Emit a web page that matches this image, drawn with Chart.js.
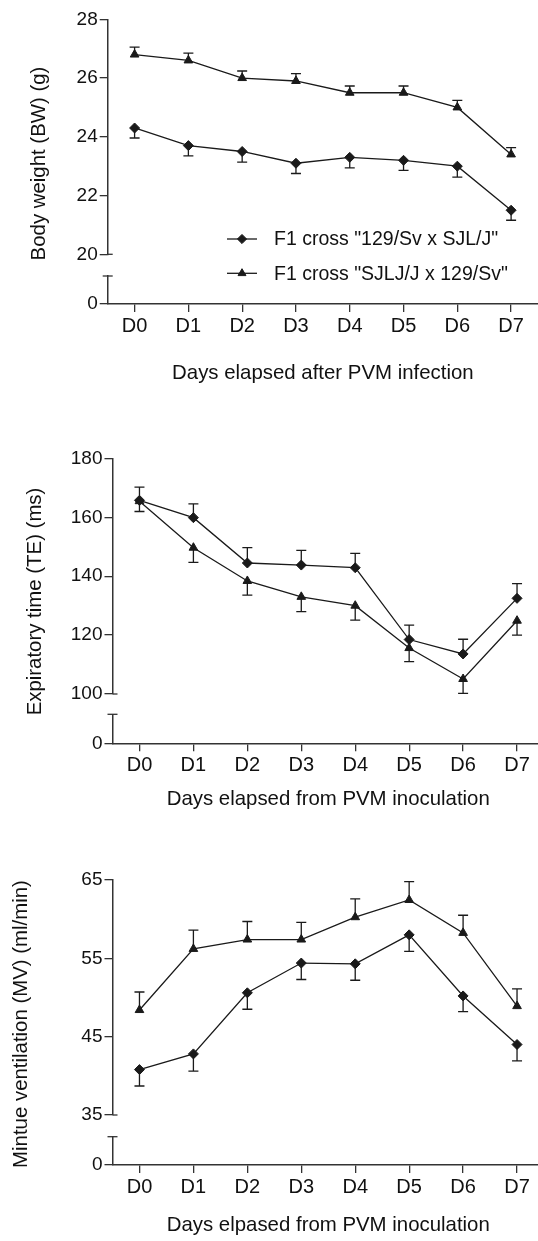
<!DOCTYPE html>
<html>
<head>
<meta charset="utf-8">
<script src="https://cdn.jsdelivr.net/npm/chart.js@4/dist/chart.umd.min.js"></script>
<style>
html,body{margin:0;padding:0;background:#fff;overflow:hidden;width:538px;height:1241px;position:relative}
.p{position:absolute;left:0}
</style>
</head>
<body>
<div class="p" style="top:0;width:538px;height:400px"><canvas id="c1"></canvas></div>
<div class="p" style="top:400px;width:544px;height:420px"><canvas id="c2"></canvas></div>
<div class="p" style="top:820px;width:544px;height:421px"><canvas id="c3"></canvas></div>
<script>
// ---------- data ----------
const days = ['D0', 'D1', 'D2', 'D3', 'D4', 'D5', 'D6', 'D7'];
const seriesNames = ['F1 cross "129/Sv x SJL/J"', 'F1 cross "SJLJ/J x 129/Sv"'];

// Body weight (g)
const bwCross1 = [24.3, 23.7, 23.5, 23.1, 23.3, 23.2, 23.0, 21.5];
const bwCross1Err = [0.34, 0.35, 0.36, 0.35, 0.36, 0.34, 0.37, 0.34];
const bwCross2 = [26.8, 26.6, 26.0, 25.9, 25.5, 25.5, 25.0, 23.4];
const bwCross2Err = [0.25, 0.25, 0.24, 0.25, 0.23, 0.23, 0.24, 0.23];
const bwTicks = [20, 22, 24, 26, 28];

// Expiratory time (ms)
const teCross1 = [165.8, 159.9, 144.5, 143.8, 142.9, 118.5, 113.6, 132.5];
const teCross1Err = [4.5, 4.7, 5.2, 5.0, 4.9, 4.9, 5.0, 5.0];
const teCross2 = [165.5, 149.7, 138.4, 133.0, 130.0, 115.6, 105.1, 124.9];
const teCross2Err = [3.5, 5.0, 4.8, 5.0, 4.9, 4.6, 4.9, 4.9];
const teTicks = [100, 120, 140, 160, 180];

// Minute ventilation (ml/min)
const mvCross1 = [40.8, 42.8, 50.6, 54.4, 54.3, 58.0, 50.2, 44.0];
const mvCross1Err = [2.1, 2.2, 2.1, 2.1, 2.1, 2.1, 2.0, 2.1];
const mvCross2 = [48.4, 56.2, 57.4, 57.4, 60.25, 62.45, 58.25, 48.9];
const mvCross2Err = [2.3, 2.4, 2.3, 2.2, 2.35, 2.35, 2.25, 2.2];
const mvTicks = [35, 45, 55, 65];

const breakTicks = [0];

// ---------- styling ----------
const FONT = "'Liberation Sans', Arial, Helvetica, sans-serif";
const INK = '#1a1a1a';
const AXIS = '#333333';
const TXT = '#111111';
Chart.defaults.font.family = FONT;

function drawMarker(ctx, style, x, y, r) {
  ctx.save();
  ctx.fillStyle = INK; ctx.strokeStyle = INK; ctx.lineWidth = 1;
  ctx.beginPath();
  if (style === 'rectRot') {
    ctx.moveTo(x, y - r); ctx.lineTo(x + r, y); ctx.lineTo(x, y + r); ctx.lineTo(x - r, y);
  } else {
    const e = r * Math.sqrt(3) / 2;
    ctx.moveTo(x, y - r); ctx.lineTo(x + e, y + r / 2); ctx.lineTo(x - e, y + r / 2);
  }
  ctx.closePath(); ctx.fill(); ctx.stroke();
  ctx.restore();
}

const errorBars = {
  id: 'errorBars',
  beforeDatasetsDraw(chart) {
    const ctx = chart.ctx;
    ctx.save();
    ctx.strokeStyle = INK; ctx.lineWidth = 1.3;
    chart.data.datasets.forEach((ds, di) => {
      const meta = chart.getDatasetMeta(di);
      const ys = chart.scales[meta.yAxisID];
      meta.data.forEach((pt, i) => {
        const v = ds.data[i] + ds.errSign * ds.errors[i];
        const ye = ys.getPixelForValue(v);
        ctx.beginPath();
        ctx.moveTo(pt.x, pt.y); ctx.lineTo(pt.x, ye);
        ctx.moveTo(pt.x - 5, ye); ctx.lineTo(pt.x + 5, ye);
        ctx.stroke();
      });
    });
    ctx.restore();
  }
};

const decor = {
  id: 'decor',
  afterDraw(chart, args, o) {
    const ctx = chart.ctx;
    const y = chart.scales.y, y0 = chart.scales.y0, ca = chart.chartArea;
    ctx.save();
    ctx.strokeStyle = AXIS; ctx.lineWidth = 1.3;
    const L = ca.left;
    const yb = y.getPixelForValue(y.min);
    ctx.beginPath(); ctx.moveTo(L, yb); ctx.lineTo(L + 5, yb); ctx.stroke();
    const yt = y0.top;
    ctx.beginPath(); ctx.moveTo(L - 5, yt); ctx.lineTo(L + 5, yt); ctx.stroke();
    // axis titles
    ctx.fillStyle = TXT;
    ctx.font = '20.4px ' + FONT;
    ctx.textAlign = 'center'; ctx.textBaseline = 'middle';
    ctx.fillText(o.xTitle, (ca.left + ca.right) / 2, o.xTitleY);
    ctx.save();
    ctx.translate(o.yTitleX, o.yTitleY);
    ctx.rotate(-Math.PI / 2);
    ctx.fillText(o.yTitle, 0, 0);
    ctx.restore();
    // legend
    if (o.legend) {
      ctx.font = '19.5px ' + FONT;
      ctx.textAlign = 'left';
      chart.data.datasets.forEach((ds, i) => {
        const ly = o.legend.y[i];
        ctx.strokeStyle = INK; ctx.lineWidth = 1.3;
        ctx.beginPath(); ctx.moveTo(o.legend.x, ly); ctx.lineTo(o.legend.x + 30, ly); ctx.stroke();
        drawMarker(ctx, ds.pointStyle, o.legend.x + 15, ly, 4.6);
        ctx.fillStyle = TXT;
        ctx.fillText(ds.label, o.legend.x + 47, ly + 1);
      });
    }
    ctx.restore();
  }
};

function makePanel(id, cfg) {
  const L = cfg.left;
  const tickGrid = { display: true, drawOnChartArea: false, drawTicks: true, tickLength: 8, color: AXIS, lineWidth: 1.3 };
  const border = { display: true, color: AXIS, width: 1.5 };
  const yTickFont = { family: FONT, size: 19 };
  return new Chart(document.getElementById(id), {
    type: 'line',
    data: {
      labels: days,
      datasets: cfg.series.map(s => ({
        label: s.name, data: s.values, errors: s.errors, errSign: s.sign,
        yAxisID: 'y', borderColor: INK, borderWidth: 1.3, backgroundColor: INK,
        pointStyle: s.style, pointRadius: 5, pointBorderWidth: 1,
        pointBackgroundColor: INK, pointBorderColor: INK, tension: 0, fill: false
      }))
    },
    options: {
      responsive: true, maintainAspectRatio: false, animation: false, devicePixelRatio: 1,
      layout: { autoPadding: false, padding: { left: 0, right: 0, top: cfg.padTop, bottom: cfg.padBottom } },
      plugins: {
        legend: { display: false }, tooltip: { enabled: false },
        decor: { xTitle: cfg.xTitle, xTitleY: cfg.xTitleY, yTitle: cfg.yTitle, yTitleX: cfg.yTitleX, yTitleY: cfg.yTitleY, legend: cfg.legend }
      },
      scales: {
        x: {
          type: 'category', offset: true,
          afterFit: s => { s.height = 40; s.paddingLeft = 0; s.paddingRight = 0; },
          grid: Object.assign({}, tickGrid, { offset: false }),
          border: border,
          ticks: { font: { family: FONT, size: 20 }, color: TXT, padding: 2, maxRotation: 0, autoSkip: false }
        },
        y0: {
          type: 'linear', position: 'left', stack: 'left', stackWeight: cfg.w[2], min: 0, max: 1,
          afterBuildTicks: s => { s.ticks = breakTicks.map(v => ({ value: v })); },
          afterFit: s => { s.width = L; },
          grid: tickGrid, border: border,
          ticks: { font: yTickFont, color: TXT, padding: 2 }
        },
        yGap: {
          type: 'linear', position: 'left', stack: 'left', stackWeight: cfg.w[1], min: 0, max: 1,
          afterFit: s => { s.width = L; },
          grid: { display: false }, border: { display: false }, ticks: { display: false }
        },
        y: {
          type: 'linear', position: 'left', stack: 'left', stackWeight: cfg.w[0],
          min: cfg.ticks[0], max: cfg.ticks[cfg.ticks.length - 1],
          afterBuildTicks: s => { s.ticks = cfg.ticks.map(v => ({ value: v })); },
          afterFit: s => { s.width = L; },
          grid: tickGrid, border: border,
          ticks: { font: yTickFont, color: TXT, padding: 2 }
        }
      }
    },
    plugins: [errorBars, decor]
  });
}

makePanel('c1', {
  left: 107.7, padTop: 19.3, padBottom: 56, w: [235, 21.7, 28], ticks: bwTicks,
  series: [
    { name: seriesNames[0], values: bwCross1, errors: bwCross1Err, sign: -1, style: 'rectRot' },
    { name: seriesNames[1], values: bwCross2, errors: bwCross2Err, sign: 1, style: 'triangle' }
  ],
  xTitle: 'Days elapsed after PVM infection', xTitleY: 373.5,
  yTitle: 'Body weight (BW) (g)', yTitleX: 39, yTitleY: 163.5,
  legend: { x: 227, y: [239, 273.3] }
});

makePanel('c2', {
  left: 112.5, padTop: 58.5, padBottom: 36.7, w: [235.5, 20.3, 29], ticks: teTicks,
  series: [
    { name: seriesNames[0], values: teCross1, errors: teCross1Err, sign: 1, style: 'rectRot' },
    { name: seriesNames[1], values: teCross2, errors: teCross2Err, sign: -1, style: 'triangle' }
  ],
  xTitle: 'Days elapsed from PVM inoculation', xTitleY: 399,
  yTitle: 'Expiratory time (TE) (ms)', yTitleX: 35.5, yTitleY: 201.5
});

makePanel('c3', {
  left: 112.5, padTop: 60, padBottom: 36, w: [235, 21.7, 28.3], ticks: mvTicks,
  series: [
    { name: seriesNames[0], values: mvCross1, errors: mvCross1Err, sign: -1, style: 'rectRot' },
    { name: seriesNames[1], values: mvCross2, errors: mvCross2Err, sign: 1, style: 'triangle' }
  ],
  xTitle: 'Days elpased from PVM inoculation', xTitleY: 405,
  yTitle: 'Mintue ventilation (MV) (ml/min)', yTitleX: 21.5, yTitleY: 204
});
</script>
</body>
</html>
